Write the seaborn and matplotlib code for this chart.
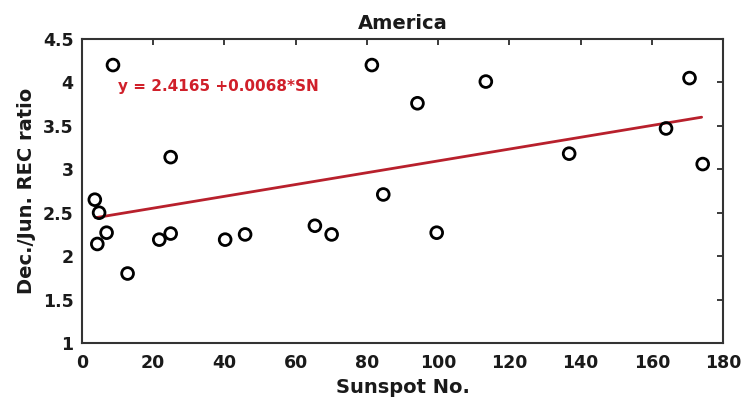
import matplotlib
matplotlib.use("Agg")
import matplotlib.pyplot as plt
import seaborn as sns
import numpy as np
import pandas as pd

sunspot = [3.6, 4.8, 4.3, 6.9, 8.7, 12.8, 21.7, 24.9, 24.9, 40.2, 45.8, 65.4,
           70.1, 81.4, 84.6, 94.2, 99.6, 113.4, 136.8, 164.0, 170.6, 174.3]
ratio = [2.65, 2.50, 2.14, 2.27, 4.20, 1.80, 2.19, 2.26, 3.14, 2.19, 2.25, 2.35,
         2.25, 4.20, 2.71, 3.76, 2.27, 4.01, 3.18, 3.47, 4.05, 3.06]
fit_intercept = 2.4165
fit_slope = 0.0068
fit_x = [3.8, 174.0]
xticks = [0, 20, 40, 60, 80, 100, 120, 140, 160, 180]
yticks = [1, 1.5, 2, 2.5, 3, 3.5, 4, 4.5]
ytick_labels = ["1", "1.5", "2", "2.5", "3", "3.5", "4", "4.5"]

sns.set_theme(style="white")
plt.rcParams['font.family'] = ['DejaVu Sans']

df = pd.DataFrame({"SN": sunspot, "ratio": ratio})
fit_df = pd.DataFrame({"SN": fit_x,
                       "ratio": [fit_intercept + fit_slope * v for v in fit_x]})

fig = plt.figure(figsize=(7.46, 4.01), dpi=100)
ax = fig.add_axes([82/746, 1 - 343/401, (723-82)/746, (343-39)/401])

sns.lineplot(data=fit_df, x="SN", y="ratio", ax=ax, color="#b8202c", linewidth=2)
sns.scatterplot(data=df, x="SN", y="ratio", ax=ax, marker="o", s=72,
                facecolor="none", edgecolor="black", linewidth=2, zorder=3)

ax.set_xlim(0, 180)
ax.set_ylim(1, 4.5)
ax.set_xticks(xticks)
ax.set_yticks(yticks)
ax.set_yticklabels(ytick_labels)
ax.tick_params(direction="in", length=4, width=1.2, top=True, right=True,
               labelsize=12.5, colors="#1a1a1a")
ax.tick_params(axis="x", pad=8)
ax.tick_params(axis="y", pad=6)
for lab in ax.get_xticklabels() + ax.get_yticklabels():
    lab.set_fontweight("bold")
for sp in ax.spines.values():
    sp.set_linewidth(1.5)
    sp.set_color("#333333")

ax.set_xlabel("Sunspot No.", fontsize=14, fontweight="bold", color="#1a1a1a", labelpad=4)
ax.set_ylabel("Dec./Jun. REC ratio", fontsize=14, fontweight="bold", color="#1a1a1a", labelpad=5)
ax.set_title("America", fontsize=14, fontweight="bold", color="#1a1a1a", pad=7)
ax.text(10.1, 3.95, "y = 2.4165 +0.0068*SN", color="#d0202a", fontsize=11,
        fontweight="bold", va="center", ha="left")

fig.savefig("out.png", dpi=100)
